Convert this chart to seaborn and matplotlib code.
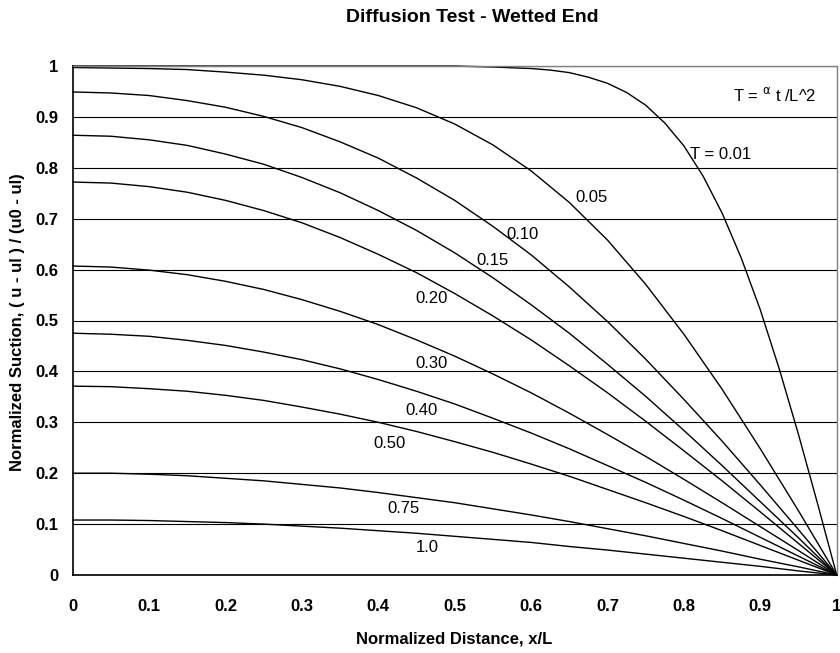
import matplotlib
matplotlib.use("Agg")
import matplotlib.pyplot as plt
import seaborn as sns

# Normalized distance x/L (shared grid for T >= 0.05)
x_pos = [0.00, 0.05, 0.10, 0.15, 0.20, 0.25, 0.30, 0.35, 0.40, 0.45, 0.50,
         0.55, 0.60, 0.65, 0.70, 0.75, 0.80, 0.85, 0.90, 0.95, 1.00]

# T = 0.01 bends sharply near the end, so it gets a denser grid there
x_t001 = [0.0, 0.1, 0.2, 0.3, 0.4, 0.5, 0.55, 0.6, 0.625, 0.65, 0.675, 0.7,
          0.725, 0.75, 0.775, 0.8, 0.825, 0.85, 0.875, 0.9, 0.925, 0.95, 0.975, 1.0]
u_001 = [1.0, 1.0, 1.0, 1.0, 1.0, 1.0, 0.998, 0.995, 0.992, 0.987, 0.978, 0.966,
         0.948, 0.923, 0.888, 0.843, 0.784, 0.711, 0.623, 0.521, 0.404, 0.276, 0.140, 0.0]

# Normalized suction for each time factor T
u_005 = [0.997, 0.996, 0.995, 0.993, 0.988, 0.982, 0.973, 0.960, 0.942, 0.918, 0.886,
         0.845, 0.794, 0.732, 0.658, 0.571, 0.473, 0.365, 0.248, 0.126, 0.0]
u_010 = [0.949, 0.947, 0.942, 0.932, 0.919, 0.901, 0.879, 0.851, 0.819, 0.780, 0.736,
         0.685, 0.629, 0.566, 0.498, 0.424, 0.345, 0.263, 0.177, 0.089, 0.0]
u_015 = [0.864, 0.862, 0.855, 0.844, 0.827, 0.807, 0.781, 0.751, 0.716, 0.677, 0.633,
         0.584, 0.531, 0.475, 0.414, 0.351, 0.284, 0.215, 0.144, 0.073, 0.0]
u_020 = [0.772, 0.770, 0.763, 0.752, 0.736, 0.716, 0.692, 0.663, 0.630, 0.594, 0.553,
         0.509, 0.462, 0.411, 0.358, 0.302, 0.244, 0.185, 0.124, 0.062, 0.0]
u_030 = [0.607, 0.605, 0.599, 0.590, 0.577, 0.561, 0.541, 0.518, 0.492, 0.462, 0.430,
         0.395, 0.358, 0.318, 0.276, 0.233, 0.188, 0.142, 0.095, 0.048, 0.0]
u_040 = [0.475, 0.473, 0.469, 0.461, 0.451, 0.438, 0.423, 0.405, 0.384, 0.361, 0.336,
         0.308, 0.279, 0.248, 0.215, 0.182, 0.147, 0.111, 0.074, 0.037, 0.0]
u_050 = [0.371, 0.370, 0.366, 0.361, 0.353, 0.343, 0.330, 0.316, 0.300, 0.282, 0.262,
         0.241, 0.218, 0.194, 0.168, 0.142, 0.115, 0.087, 0.058, 0.029, 0.0]
u_075 = [0.200, 0.200, 0.198, 0.195, 0.190, 0.185, 0.178, 0.171, 0.162, 0.152, 0.142,
         0.130, 0.118, 0.105, 0.091, 0.077, 0.062, 0.047, 0.031, 0.016, 0.0]
u_100 = [0.108, 0.108, 0.107, 0.105, 0.103, 0.100, 0.096, 0.092, 0.087, 0.082, 0.076,
         0.070, 0.064, 0.056, 0.049, 0.041, 0.033, 0.025, 0.017, 0.008, 0.0]

curve_labels = ["T = 0.01", "0.05", "0.10", "0.15", "0.20", "0.30", "0.40", "0.50", "0.75", "1.0"]
label_pos = [(0.808, 0.827), (0.658, 0.742), (0.568, 0.668), (0.529, 0.617), (0.448, 0.544),
             (0.448, 0.416), (0.436, 0.324), (0.394, 0.259), (0.412, 0.130), (0.449, 0.055)]

tick_vals = [0, 0.1, 0.2, 0.3, 0.4, 0.5, 0.6, 0.7, 0.8, 0.9, 1]
tick_labels = ["0", "0.1", "0.2", "0.3", "0.4", "0.5", "0.6", "0.7", "0.8", "0.9", "1"]

sns.set_style("white")
plt.rcParams['font.family'] = ['Liberation Sans', 'DejaVu Sans']
plt.rcParams['text.color'] = 'black'
plt.rcParams['axes.labelcolor'] = 'black'
plt.rcParams['xtick.color'] = 'black'
plt.rcParams['ytick.color'] = 'black'

fig = plt.figure(figsize=(8.4, 6.53), dpi=100)
ax = fig.add_axes([72.7 / 840, 1 - 575 / 653, 764 / 840, 509 / 653])

# curves
sns.lineplot(x=x_t001, y=u_001, color="black", lw=1.0, ax=ax, clip_on=False)
for u in [u_005, u_010, u_015, u_020, u_030, u_040, u_050, u_075, u_100]:
    sns.lineplot(x=x_pos, y=u, color="black", lw=1.0, ax=ax, clip_on=False)

for txt, (lx, ly) in zip(curve_labels, label_pos):
    ax.text(lx, ly, txt, fontsize=12, ha="left", va="center", color="black")
ax.text(0.864, 0.943, r"T = $^{\mathrm{\alpha}}$ t /L^2", fontsize=12, ha="left", va="center", color="black")

ax.set_xlim(0, 1)
ax.set_ylim(0, 1)
ax.set_xticks(tick_vals)
ax.set_xticklabels(tick_labels, fontsize=12, fontweight="bold")
ax.set_yticks(tick_vals)
ax.set_yticklabels(tick_labels, fontsize=12, fontweight="bold")
ax.tick_params(axis="x", direction="out", length=5, width=1, pad=12, colors="black")
ax.tick_params(axis="y", direction="out", length=5, width=1, pad=5.5, colors="black")
ax.yaxis.grid(True, color="black", lw=0.8)
ax.xaxis.grid(False)
ax.set_axisbelow(True)

for side in ["left", "bottom"]:
    ax.spines[side].set_color("black")
    ax.spines[side].set_linewidth(1.2)
for side in ["top", "right"]:
    ax.spines[side].set_color("#808080")
    ax.spines[side].set_linewidth(1.0)

ax.set_xlabel("")
ax.set_ylabel("")
fig.text(472.5 / 840, 1 - 18 / 653, "Diffusion Test - Wetted End", fontsize=14,
         fontweight="bold", ha="center", va="center", color="black")
fig.text(454 / 840, 1 - 639 / 653, "Normalized Distance, x/L", fontsize=12,
         fontweight="bold", ha="center", va="center", color="black")
fig.text(17.5 / 840, 1 - 322 / 653, "Normalized Suction, ( u - ul ) / (u0 - ul)", fontsize=12,
         fontweight="bold", ha="center", va="center", rotation=90, color="black")

fig.savefig("out.png", dpi=100)
